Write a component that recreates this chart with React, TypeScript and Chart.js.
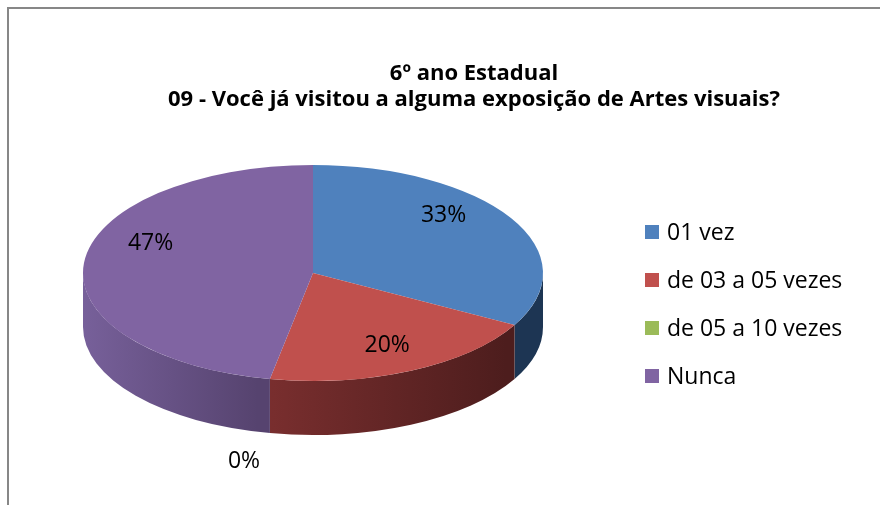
import React, { useEffect, useRef } from "react";
import { Chart, registerables } from "chart.js";
Chart.register(...registerables);

const titleLines = ["6º ano Estadual", "09 - Você já visitou a alguma exposição de Artes visuais?"];
const categories = ["01 vez", "de 03 a 05 vezes", "de 05 a 10 vezes", "Nunca"];
const percentages = [33, 20, 0, 47];
const topColors = ["#4F81BD", "#C0504D", "#9BBB59", "#8064A2"];
const sideColors = [
  ["#223d60", "#1d3553"],
  ["#7b2f2f", "#4d1d1d"],
  ["#5d7030", "#4a5a26"],
  ["#77609a", "#56436f"],
];

const FONT = "'Open Sans', 'Liberation Sans', sans-serif";
const TILT = 108 / 230;
const DEPTH = 54;
const PERSP = 0.157;

const pie3d = {
  id: "pie3d",
  beforeDraw(chart: any) {
    const ctx = chart.ctx;
    ctx.save();
    ctx.strokeStyle = "#878787";
    ctx.lineWidth = 2;
    ctx.beginPath();
    ctx.moveTo(8, 700);
    ctx.lineTo(8, 8);
    ctx.lineTo(1000, 8);
    ctx.stroke();
    ctx.restore();
  },
  beforeDatasetsDraw(chart: any) {
    const ctx = chart.ctx;
    const arcs = chart.getDatasetMeta(0).data;
    if (!arcs.length) return;
    const cx = arcs[0].x, cy = arcs[0].y, rx = arcs[0].outerRadius;
    const ry = rx * TILT;
    const pt = (a: number, dy: number) => [cx + rx * Math.cos(a), cy + dy + ry * Math.sin(a)];
    arcs.forEach((arc: any, i: number) => {
      const s = arc.startAngle, e = arc.endAngle;
      if (e - s <= 0) return;
      const ranges = [[0, Math.PI], [2 * Math.PI, 3 * Math.PI], [-2 * Math.PI, -Math.PI]];
      ranges.forEach(([lo, hi]) => {
        const a1 = Math.max(s, lo), a2 = Math.min(e, hi);
        if (a2 <= a1) return;
        const g = ctx.createLinearGradient(cx - rx, 0, cx + rx, 0);
        g.addColorStop(0, sideColors[i][0]);
        g.addColorStop(i === 1 ? 0.38 : 0, sideColors[i][0]);
        g.addColorStop(i === 3 ? 0.38 : 0.92, sideColors[i][1]);
        g.addColorStop(1, sideColors[i][1]);
        ctx.save();
        ctx.beginPath();
        const p1 = pt(a1, 0);
        ctx.moveTo(p1[0], p1[1]);
        ctx.ellipse(cx, cy, rx, ry, 0, a1, a2, false);
        const p2 = pt(a2, DEPTH);
        ctx.lineTo(p2[0], p2[1]);
        ctx.ellipse(cx, cy + DEPTH, rx, ry, 0, a2, a1, true);
        ctx.closePath();
        ctx.fillStyle = g;
        ctx.fill();
        ctx.restore();
      });
    });
    ctx.save();
    ctx.translate(cx, cy);
    ctx.scale(1, TILT);
    ctx.translate(-cx, -cy);
  },
  afterDatasetsDraw(chart: any) {
    const ctx = chart.ctx;
    ctx.restore();
    const arcs = chart.getDatasetMeta(0).data;
    if (!arcs.length) return;
    const cx = arcs[0].x, cy = arcs[0].y, rx = arcs[0].outerRadius;
    const ry = rx * TILT;
    // perspective-style placement of labels (as in a 3-D office pie)
    const cyP = cy - PERSP * ry;
    const upper = ry * (1 - PERSP), lower = ry * (1 + PERSP);
    const A = ry * (1 - PERSP * PERSP);
    const proj = (t: number) => {
      const nx = Math.cos(t), ny = Math.sin(t), d = 1 - PERSP * ny;
      return [cx + (rx * nx) / d, cyP + (A * ny) / d];
    };
    const rawAngle = (t: number) => {
      const [x, y] = proj(t);
      return Math.atan2(y - cyP, x - cx);
    };
    ctx.save();
    ctx.fillStyle = "#000";
    ctx.font = `23px ${FONT}`;
    ctx.textAlign = "center";
    ctx.textBaseline = "middle";
    arcs.forEach((arc: any, i: number) => {
      const a1 = rawAngle(arc.startAngle);
      let a2 = rawAngle(arc.endAngle);
      while (a2 < a1) a2 += 2 * Math.PI;
      if (arc.endAngle - arc.startAngle <= 0) a2 = a1;
      const m = (a1 + a2) / 2;
      const c = Math.cos(m), s = Math.sin(m);
      let x: number, y: number;
      if (percentages[i] === 0) {
        x = cx + rx * 0.78 * c;
        y = cyP + lower * s + DEPTH + 36;
      } else {
        x = cx + rx * 0.72 * c;
        y = cyP + (s < 0 ? upper * 0.72 : lower * 0.8) * s;
      }
      ctx.fillText(`${percentages[i]}%`, x, y);
    });
    ctx.restore();
  },
  afterDraw(chart: any) {
    const ctx = chart.ctx;
    ctx.save();
    ctx.fillStyle = "#000";
    ctx.textAlign = "center";
    ctx.textBaseline = "alphabetic";
    ctx.font = `bold 22px ${FONT}`;
    ctx.fillText(titleLines[0], 474, 80);
    ctx.fillText(titleLines[1], 474, 106);
    ctx.font = `23px ${FONT}`;
    ctx.textAlign = "left";
    categories.forEach((c, i) => {
      const base = 240 + i * 48;
      ctx.fillStyle = topColors[i];
      ctx.fillRect(645, base - 15, 14, 14);
      ctx.fillStyle = "#000";
      ctx.fillText(c, 667, base);
    });
    ctx.restore();
  },
};

export default function App() {
  const ref = useRef<HTMLCanvasElement>(null);
  useEffect(() => {
    if (!ref.current) return;
    const chart = new Chart(ref.current, {
      type: "pie",
      data: {
        labels: categories,
        datasets: [
          {
            data: percentages,
            backgroundColor: topColors,
            borderWidth: 0,
            hoverOffset: 0,
            offset: 0,
          },
        ],
      },
      options: {
        responsive: false,
        animation: false,
        events: [],
        layout: { padding: { left: 83, right: 337, top: 43, bottom: 2 } },
        plugins: { legend: { display: false }, title: { display: false }, tooltip: { enabled: false } },
      },
      plugins: [pie3d],
    });
    return () => chart.destroy();
  }, []);
  return (
    <div style={{ position: "fixed", left: 0, top: 0, width: 880, height: 505, background: "#fff" }}>
      <canvas ref={ref} width={880} height={505} style={{ display: "block" }} />
    </div>
  );
}
